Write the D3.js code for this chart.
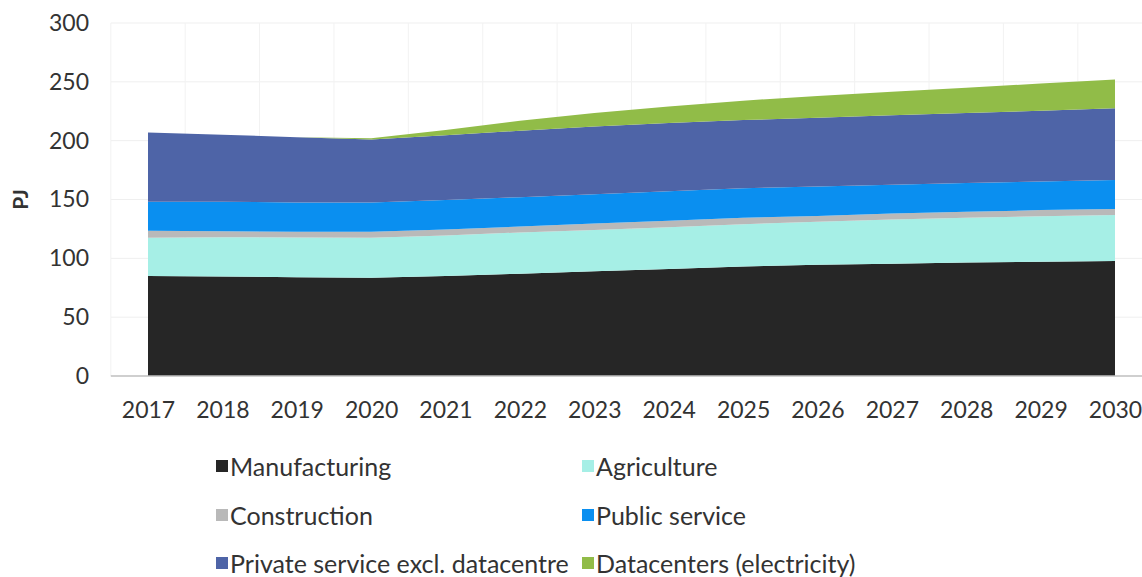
<!DOCTYPE html>
<html>
<head>
<meta charset="utf-8">
<script src="https://cdn.jsdelivr.net/npm/d3@7"></script>
<style>
  html, body { margin: 0; padding: 0; background: #fff; }
  svg { display: block; }
  text { font-family: Lato, "Open Sans", sans-serif; fill: #333; }
</style>
</head>
<body>
<svg id="chart" width="1142" height="577"></svg>
<script>
// Energy use by sector, PJ
const years = [2017, 2018, 2019, 2020, 2021, 2022, 2023, 2024, 2025, 2026, 2027, 2028, 2029, 2030];
const manufacturing = [85, 84.5, 84, 83.5, 85, 87, 89, 91, 93, 94.5, 95.5, 96.5, 97, 97.7];
const agriculture   = [32.5, 33.5, 33.8, 34, 34.5, 35, 35, 35.5, 36, 36.5, 37.5, 38, 38.8, 39.1];
const construction  = [6, 5, 4.7, 5, 5, 5, 5.5, 5.5, 5.5, 5, 5, 5, 5.2, 5.2];
const publicService = [24.5, 25, 25, 25, 25, 25, 25, 25, 25, 25, 24.5, 24.5, 24.3, 24.6];
const privateService = [59, 57, 55.5, 53.5, 55, 56.5, 57.5, 58, 58, 58.5, 59, 59.5, 60.2, 60.9];
const datacenters   = [0, 0, 0, 1, 4.5, 8.5, 11.5, 14, 16.5, 18.5, 20, 21.5, 23, 24.5];

const seriesNames = ["Manufacturing", "Agriculture", "Construction", "Public service",
                     "Private service excl. datacentre", "Datacenters (electricity)"];
const seriesValues = [manufacturing, agriculture, construction, publicService, privateService, datacenters];
const seriesColors = ["#262626", "#a6efe6", "#b9b9b9", "#0a8ff0", "#4e64a7", "#91bc48"];
const yTicks = [0, 50, 100, 150, 200, 250, 300];

const svg = d3.select("#chart");
const W = 1142;

const x = d3.scalePoint().domain(years).range([148, 1115]);
const step = x.step();
const y = d3.scaleLinear().domain([0, 300]).range([376, 23]);

const table = years.map((yr, i) => {
  const row = { year: yr };
  seriesNames.forEach((n, k) => { row[n] = seriesValues[k][i]; });
  return row;
});
const stacked = d3.stack().keys(seriesNames)(table);

// gridlines
const grid = svg.append("g");
grid.selectAll("line.h").data(yTicks.filter(t => t > 0)).join("line")
  .attr("x1", x(years[0]) - step / 2).attr("x2", W)
  .attr("y1", d => y(d)).attr("y2", d => y(d))
  .attr("stroke", "#efefef").attr("stroke-width", 1);
grid.selectAll("line.v").data(years).join("line")
  .attr("x1", d => x(d) - step / 2).attr("x2", d => x(d) - step / 2)
  .attr("y1", y(300)).attr("y2", y(0))
  .attr("stroke", "#f2f2f2").attr("stroke-width", 1);

// stacked areas
const area = d3.area()
  .x(d => x(d.data.year))
  .y0(d => y(d[0]))
  .y1(d => y(d[1]));
svg.append("g").selectAll("path").data(stacked).join("path")
  .attr("d", area)
  .attr("fill", (d, i) => seriesColors[i]);

// x axis
const xAxis = svg.append("g").attr("transform", `translate(0,${y(0)})`)
  .call(d3.axisBottom(x).tickSize(0).tickPadding(26));
xAxis.select(".domain").remove();
xAxis.append("line").attr("x1", x(years[0]) - step / 2).attr("x2", W)
  .attr("stroke", "#bfbfbf").attr("stroke-width", 1.5);
xAxis.selectAll("text").style("font-size", "23px").attr("fill", "#333")
  .style("font-family", "Lato, sans-serif");

// y axis
const yAxis = svg.append("g").attr("transform", `translate(89,0)`)
  .call(d3.axisLeft(y).tickValues(yTicks).tickSize(0).tickPadding(0));
yAxis.select(".domain").remove();
yAxis.selectAll("text").style("font-size", "23px").attr("fill", "#333")
  .style("font-family", "Lato, sans-serif");

svg.append("text")
  .attr("transform", `translate(19,${y(150)}) rotate(-90)`)
  .attr("text-anchor", "middle").attr("dominant-baseline", "central")
  .style("font-size", "21px").style("font-weight", "bold")
  .text("PJ");

// legend, two columns
const legendCols = [216, 582];
const legendRows = [466, 515, 563];
const legend = svg.append("g").selectAll("g").data(seriesNames).join("g")
  .attr("transform", (d, i) => `translate(${legendCols[i % 2]},${legendRows[Math.floor(i / 2)]})`);
legend.append("rect").attr("x", 0).attr("y", -6).attr("width", 12).attr("height", 12)
  .attr("fill", (d, i) => seriesColors[i]);
legend.append("text").attr("x", 14).attr("dominant-baseline", "central")
  .style("font-size", "25px").text(d => d);
</script>
</body>
</html>
